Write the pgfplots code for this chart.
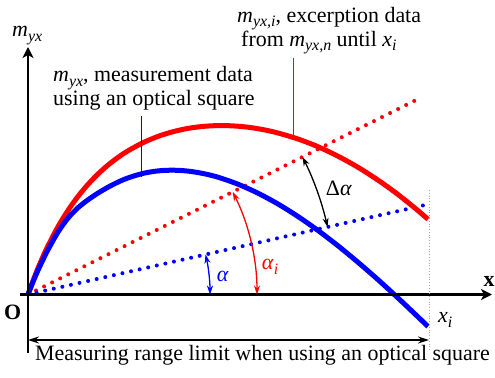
\documentclass[border=0pt]{standalone}
\usepackage{pgfplots}
\pgfplotsset{compat=1.18}
\usepackage{fontspec}
\setmainfont{Liberation Serif}[ItalicFont={Liberation Serif Italic},BoldFont={Liberation Serif Bold}]
\usetikzlibrary{arrows.meta}
\newcommand\subs[1]{\raisebox{-4.5bp}{\fontsize{16}{16}\selectfont\itshape #1}}
\begin{document}
\begin{tikzpicture}[font=\fontsize{22}{23}\selectfont]
\begin{axis}[width=495bp,height=378bp,scale only axis,
  xmin=-28,xmax=467,ymin=-83.5,ymax=294.5,hide axis,clip=false]
\coordinate (BL) at (axis cs:-28,-83.5);
\coordinate (TR) at (axis cs:467,294.5);
% dotted chords
\addplot[red,line width=4bp,line cap=round,dash pattern=on 0bp off 9bp] coordinates {(0,0) (394,197.5)};
\addplot[blue,line width=4bp,line cap=round,dash pattern=on 0bp off 8.8bp] coordinates {(0,0) (398,89.7)};
% curves
\addplot[red,line width=5bp,smooth] coordinates {
(0,0) (5,13.7) (10,26.4) (15,38.0) (20,48.7) (30,67.8) (40,84.1) (50,98.1) (60,110.1)
(70,120.5) (80,129.4) (90,137.1) (100,143.7) (115,151.8) (130,158.1) (145,162.8)
(160,166.1) (175,168.1) (190,168.9) (205,168.6) (220,167.3) (235,164.9) (250,161.5)
(270,155.5) (290,147.8) (310,138.3) (330,127.2) (350,114.4) (370,100.0) (390,83.9) (400,75.2)};
\addplot[blue,line width=5bp,smooth] coordinates {
(0,0) (5,12.7) (10,24.2) (15,34.8) (20,44.8) (30,62.4) (40,76.4) (50,86.8) (60,94.7)
(70,101.4) (80,107.3) (90,112.4) (100,116.6) (115,121.1) (130,123.6) (145,124.3)
(160,123.4) (175,121.0) (190,117.3) (210,110.3) (230,101.3) (250,90.5) (270,78.0)
(290,64.0) (310,48.7) (330,32.2) (350,14.8) (370,-3.5) (390,-22.4) (400,-32.0)};
% axes
\draw[line width=2.5bp,-{Stealth[length=11bp,width=11bp,inset=3bp]}] (axis cs:-8,0) -- (axis cs:464,0);
\draw[line width=2.5bp,-{Stealth[length=11bp,width=11bp,inset=3bp]}] (axis cs:0,-58.5) -- (axis cs:0,247.5);
% limit
\draw[gray!70,line width=0.8bp,dotted] (axis cs:401,104.5) -- (axis cs:401,-55);
\draw[line width=1.2bp,{Stealth[length=11bp,width=7bp]}-{Stealth[length=11bp,width=7bp]}] (axis cs:0,-45.5) -- (axis cs:401,-45.5);
% angle arcs
\draw[blue,line width=1.3bp,{Stealth[length=9bp,width=6bp]}-{Stealth[length=9bp,width=6bp]}] (axis cs:182,0) arc[start angle=0,end angle=12.7,radius=182bp];
\draw[red,line width=1.3bp,{Stealth[length=9bp,width=6bp]}-{Stealth[length=9bp,width=6bp]}] (axis cs:229,0) arc[start angle=0,end angle=26.6,radius=229bp];
\draw[black,line width=1.3bp,{Stealth[length=9bp,width=6bp]}-{Stealth[length=9bp,width=6bp]}] (axis cs:299.5,67.5) arc[start angle=12.7,end angle=26.6,radius=307bp];
% leader lines
\draw[color=blue,line width=1.4bp] (axis cs:113.5,178.5) -- (axis cs:113.5,117.5);
\draw[color=red,line width=1.4bp] (axis cs:265.5,236.5) -- (axis cs:265.5,156);
% labels
\node[anchor=base west,inner sep=0] at (axis cs:-16,257.5) {\textit{m}\subs{yx}};
\node[anchor=base,inner sep=0] at (axis cs:461,7.5) {\textbf{x}};
\node[anchor=base,inner sep=0] at (axis cs:-15.3,-24.7) {\textbf{O}};
\node[anchor=base west,inner sep=0] at (axis cs:410,-28.5) {\textit{x}\subs{i}};
\node[anchor=base west,inner sep=0,text=blue] at (axis cs:188.7,12.8) {\textit{α}};
\node[anchor=base west,inner sep=0,text=red] at (axis cs:233.7,24.5) {\textit{α}\subs{i}};
\node[anchor=base west,inner sep=0] at (axis cs:297.7,98.5) {Δ\textit{α}};
\node[anchor=base west,inner sep=0,align=left] at (axis cs:25,188.5) {\textit{m}\subs{yx}, measurement data\\using an optical square};
\node[anchor=base west,inner sep=0,align=left] at (axis cs:209,248) {\textit{m}\subs{yx,i}, excerption data\\\hspace*{4bp}from \textit{m}\subs{yx,n} until \textit{x}\subs{i}};
\node[anchor=base west,inner sep=0] at (axis cs:7,-66.2) {Measuring range limit when using an optical square};
\end{axis}
\pgfresetboundingbox
\path[use as bounding box] (BL) rectangle (TR);
\end{tikzpicture}
\end{document}
